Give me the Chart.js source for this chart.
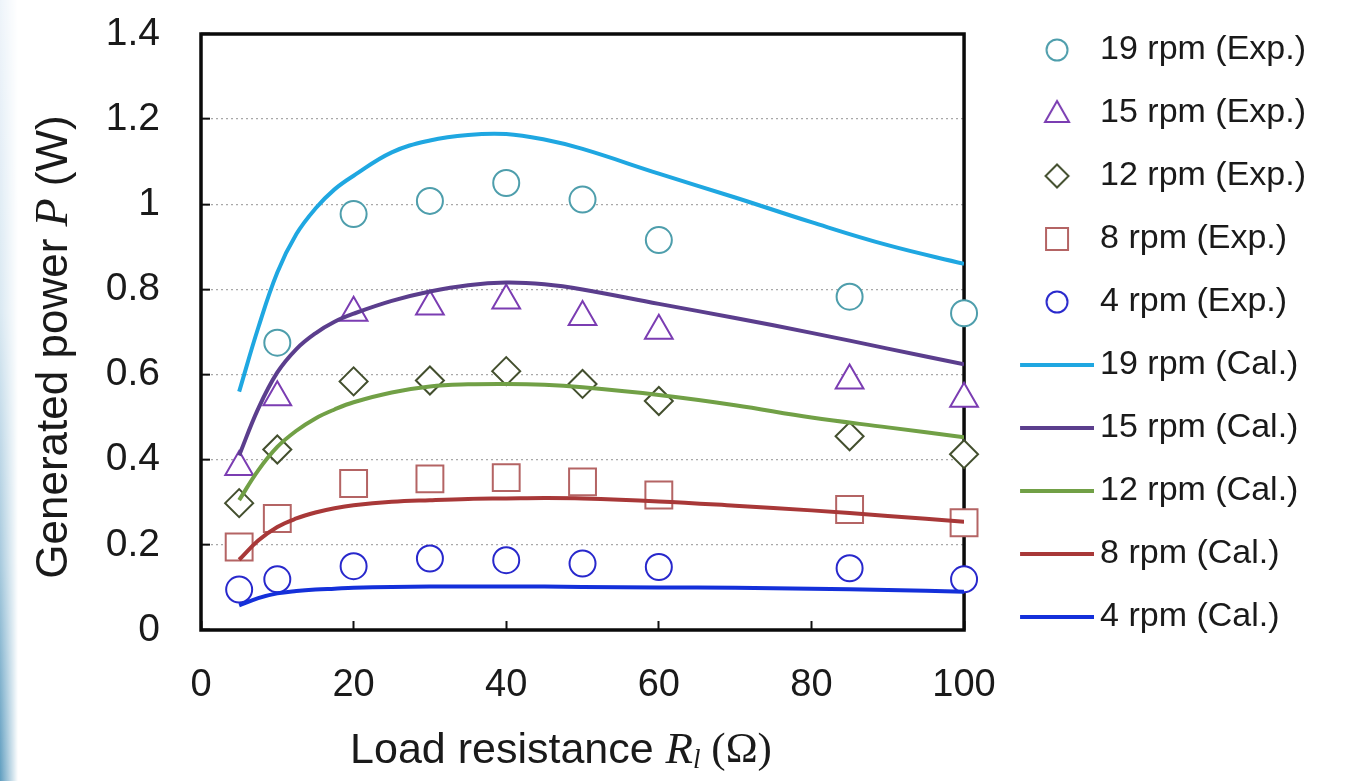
<!DOCTYPE html>
<html><head><meta charset="utf-8">
<script src="https://cdn.jsdelivr.net/npm/chart.js@4.4.1/dist/chart.umd.min.js"></script>
<style>
html,body{margin:0;padding:0;background:#fff;width:1346px;height:781px;overflow:hidden;}
#wrap{position:relative;width:1346px;height:781px;}
#strip{position:absolute;left:0;top:0;width:18px;height:781px;background:linear-gradient(to bottom,#eef4fa 0%,#d9e8f2 40%,#a6c9dd 72%,#5f9dbf 100%);-webkit-mask-image:linear-gradient(to right,#000,rgba(0,0,0,0));mask-image:linear-gradient(to right,#000,rgba(0,0,0,0));}
canvas{position:absolute;left:0;top:0;}
</style></head>
<body><div id="wrap"><div id="strip"></div><canvas id="c" width="1346" height="781"></canvas></div>
<script>
// ---- data ----
const xExp = [5, 10, 20, 30, 40, 50, 60, 85, 100];
const exp19 = [null, 0.675, 0.977, 1.008, 1.050, 1.011, 0.916, 0.783, 0.744];
const exp15 = [0.383, 0.547, 0.745, 0.760, 0.774, 0.735, 0.703, 0.586, 0.543];
const exp12 = [0.298, 0.424, 0.584, 0.586, 0.608, 0.578, 0.538, 0.455, 0.413];
const exp8  = [0.195, 0.262, 0.344, 0.355, 0.358, 0.348, 0.317, 0.283, 0.252];
const exp4  = [0.095, 0.119, 0.150, 0.168, 0.164, 0.156, 0.148, 0.145, 0.119];

const xCal  = [5, 7.5, 10, 12.5, 15, 17.5, 20, 25, 30, 35, 40, 45, 50, 60, 70, 80, 90, 100];
const cal19 = [0.56, 0.71, 0.84, 0.93, 0.99, 1.035, 1.067, 1.122, 1.15, 1.163, 1.165, 1.152, 1.13, 1.072, 1.016, 0.958, 0.904, 0.86];
const cal15 = [0.41, 0.52, 0.605, 0.66, 0.697, 0.724, 0.743, 0.773, 0.795, 0.81, 0.816, 0.812, 0.80, 0.766, 0.733, 0.698, 0.661, 0.624];
const cal12 = [0.305, 0.375, 0.43, 0.468, 0.497, 0.518, 0.535, 0.558, 0.572, 0.577, 0.578, 0.576, 0.570, 0.552, 0.528, 0.499, 0.476, 0.453];
const cal8  = [0.165, 0.21, 0.242, 0.262, 0.276, 0.286, 0.293, 0.301, 0.305, 0.308, 0.309, 0.31, 0.309, 0.302, 0.292, 0.281, 0.268, 0.254];
const cal4  = [0.058, 0.075, 0.086, 0.0915, 0.095, 0.097, 0.099, 0.101, 0.102, 0.102, 0.102, 0.102, 0.101, 0.100, 0.099, 0.097, 0.094, 0.090];

const seriesNames = ['19 rpm', '15 rpm', '12 rpm', '8 rpm', '4 rpm'];
const xTickLabels = ['0', '20', '40', '60', '80', '100'];
const yTickLabels = ['0', '0.2', '0.4', '0.6', '0.8', '1', '1.2', '1.4'];

// ---- styles ----
const expSeries = [exp19, exp15, exp12, exp8, exp4];
const calSeries = [cal19, cal15, cal12, cal8, cal4];
const expColors = ['#4e9eac', '#7b3db2', '#434f2e', '#b46464', '#2828cc'];
const calColors = ['#1fa7e1', '#5b3e8d', '#71a046', '#a83838', '#1430da'];
const expStyles = ['circle', 'triangle', 'rectRot', 'rect', 'circle'];
const expRadius = [13, 16, 14, 19, 13];
const FONT = "'Liberation Sans', Arial, Helvetica, sans-serif";
const SERIF = "'Liberation Serif', 'Times New Roman', serif";
Chart.defaults.font.family = FONT;

function pts(xs, ys) { return xs.map((x, i) => ({x: x, y: ys[i]})).filter(p => p.y !== null); }

function makeIcon(kind, color, isLine) {
  const c = document.createElement('canvas');
  c.width = 112; c.height = 34;
  const g = c.getContext('2d');
  const cx = 75, cy = 17;
  if (isLine) {
    g.strokeStyle = color; g.lineWidth = 4;
    g.beginPath(); g.moveTo(38, cy); g.lineTo(112, cy); g.stroke();
    return c;
  }
  g.strokeStyle = color; g.lineWidth = 2; g.fillStyle = '#fff';
  g.beginPath();
  if (kind === 'circle') { g.arc(cx, cy, 10.5, 0, Math.PI * 2); }
  else if (kind === 'triangle') { g.moveTo(cx, cy - 12); g.lineTo(cx + 12, cy + 9); g.lineTo(cx - 12, cy + 9); g.closePath(); }
  else if (kind === 'rectRot') { g.moveTo(cx, cy - 11.5); g.lineTo(cx + 11.5, cy); g.lineTo(cx, cy + 11.5); g.lineTo(cx - 11.5, cy); g.closePath(); }
  else { g.rect(cx - 11, cy - 11, 22, 22); }
  g.fill(); g.stroke();
  return c;
}

const datasets = [];
const icons = [];
expSeries.forEach((ys, i) => {
  datasets.push({
    label: seriesNames[i] + ' (Exp.)', data: pts(xExp, ys), showLine: false,
    pointStyle: expStyles[i], pointRadius: expRadius[i], pointBorderWidth: 2,
    pointBorderColor: expColors[i], pointBackgroundColor: '#ffffff',
    borderColor: expColors[i], backgroundColor: '#ffffff', order: 2, clip: false
  });
  icons.push(makeIcon(expStyles[i], expColors[i], false));
});
calSeries.forEach((ys, i) => {
  datasets.push({
    label: seriesNames[i] + ' (Cal.)', data: pts(xCal, ys), showLine: true,
    borderColor: calColors[i], backgroundColor: calColors[i], borderWidth: 4,
    pointRadius: 0, tension: 0.4, fill: false, order: 1
  });
  icons.push(makeIcon('line', calColors[i], true));
});

const framePlugin = {
  id: 'frame',
  beforeDatasetsDraw(chart) {
    const a = chart.chartArea, ctx = chart.ctx;
    ctx.save();
    ctx.strokeStyle = '#0a0a0a'; ctx.lineWidth = 3.5;
    ctx.strokeRect(a.left, a.top, a.right - a.left, a.bottom - a.top);
    ctx.restore();
  }
};

function drawRich(ctx, parts, cx, cy, rotate) {
  ctx.save();
  ctx.translate(cx, cy);
  if (rotate) ctx.rotate(-Math.PI / 2);
  let total = 0;
  parts.forEach(p => { ctx.font = p.font; p.w = ctx.measureText(p.text).width; total += p.w; });
  let x = -total / 2;
  ctx.textBaseline = 'middle'; ctx.textAlign = 'left'; ctx.fillStyle = '#1a1a1a';
  parts.forEach(p => { ctx.font = p.font; ctx.fillText(p.text, x, p.dy || 0); x += p.w; });
  ctx.restore();
}

const titlePlugin = {
  id: 'axisTitles',
  afterDraw(chart) {
    const ctx = chart.ctx;
    drawRich(ctx, [
      {text: 'Generated power ', font: '44px ' + FONT},
      {text: 'P', font: 'italic 46px ' + SERIF},
      {text: ' (W)', font: '44px ' + FONT}
    ], 55, 347, true);
    drawRich(ctx, [
      {text: 'Load resistance ', font: '43px ' + FONT},
      {text: 'R', font: 'italic 45px ' + SERIF},
      {text: 'l', font: 'italic 27px ' + SERIF, dy: 10},
      {text: ' (\u03A9)', font: '43px ' + SERIF}
    ], 561, 751, false);
  }
};

new Chart(document.getElementById('c'), {
  type: 'line',
  data: {datasets: datasets},
  options: {
    responsive: false, animation: false, events: [],
    layout: {padding: {left: 0, right: 30, top: 4, bottom: 0}},
    plugins: {
      tooltip: {enabled: false},
      legend: {
        position: 'right', align: 'start', maxWidth: 400,
        labels: {
          usePointStyle: true, pointStyleWidth: 90, padding: 29,
          font: {size: 34}, color: '#1a1a1a',
          generateLabels: (chart) => chart.data.datasets.map((ds, i) => ({
            text: ds.label, pointStyle: icons[i], datasetIndex: i, hidden: false,
            fillStyle: 'rgba(0,0,0,0)', strokeStyle: 'rgba(0,0,0,0)', lineWidth: 0, fontColor: '#1a1a1a'
          })),
          sort: (a, b) => a.datasetIndex - b.datasetIndex
        }
      }
    },
    scales: {
      x: {
        type: 'linear', min: 0, max: 100,
        ticks: {stepSize: 20, padding: 42, font: {size: 38}, color: '#1a1a1a', maxRotation: 0, autoSkip: false,
                callback: (v, i) => xTickLabels[i]},
        grid: {drawOnChartArea: false, drawTicks: true, tickLength: -9, tickColor: '#111', tickWidth: 2},
        border: {display: false},
        title: {display: false},
        afterFit: (s) => { s.height = 151; }
      },
      y: {
        type: 'linear', min: 0, max: 1.4,
        ticks: {stepSize: 0.2, padding: 50, font: {size: 39}, color: '#1a1a1a',
                callback: (v, i) => yTickLabels[i]},
        grid: {color: '#a8a8a8', lineWidth: 1.3, drawTicks: true, tickLength: -9, tickColor: '#111', tickWidth: 2, tickBorderDash: [0, 0]},
        border: {display: false, dash: [2, 3]},
        title: {display: false},
        afterFit: (s) => { s.width = 201; s.paddingTop = 34; }
      }
    }
  },
  plugins: [framePlugin, titlePlugin]
});
</script></body></html>
